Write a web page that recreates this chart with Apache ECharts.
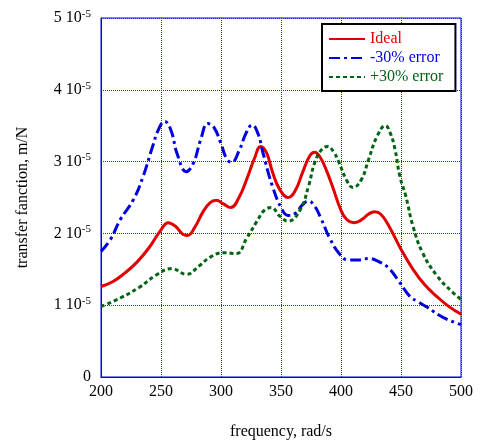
<!DOCTYPE html>
<html>
<head>
<meta charset="utf-8">
<script src="https://cdn.jsdelivr.net/npm/echarts@6/dist/echarts.min.js"></script>
<style>
  html, body { margin: 0; padding: 0; background: #fff; }
  #main { width: 480px; height: 445px; }
</style>
</head>
<body>
<div id="main"></div>
<script>
// values in units of 1e-5 m/N
var idealX = [200, 210, 220, 230, 240, 250, 256, 262, 268, 272, 278, 285, 291, 296, 302, 308, 315, 322, 328, 333, 338, 343, 349, 356, 362, 368, 374, 378, 383, 388, 393, 400, 405, 411, 418, 423, 428, 433, 440, 450, 460, 470, 480, 490, 500];
var idealY = [1.26, 1.33, 1.45, 1.60, 1.80, 2.05, 2.15, 2.10, 1.99, 1.97, 2.08, 2.30, 2.43, 2.46, 2.41, 2.36, 2.50, 2.78, 3.05, 3.21, 3.12, 2.85, 2.61, 2.50, 2.60, 2.85, 3.08, 3.13, 3.05, 2.87, 2.65, 2.32, 2.19, 2.15, 2.20, 2.27, 2.30, 2.27, 2.10, 1.78, 1.50, 1.28, 1.12, 0.98, 0.875];

var minusX = [200, 208, 216, 227, 235, 243, 248, 253, 258, 264, 271, 277, 283, 289, 294, 300, 305, 309, 315, 321, 326, 331, 335, 343, 351, 356, 362, 368, 373, 378, 383, 391, 399, 406, 414, 423, 431, 439, 448, 457, 465, 472, 485, 500];
var minusY = [1.75, 1.92, 2.19, 2.47, 2.79, 3.21, 3.45, 3.56, 3.45, 3.08, 2.86, 2.98, 3.30, 3.53, 3.48, 3.25, 3.03, 2.99, 3.15, 3.40, 3.51, 3.38, 3.12, 2.65, 2.33, 2.25, 2.28, 2.40, 2.45, 2.38, 2.22, 1.92, 1.71, 1.63, 1.63, 1.65, 1.61, 1.53, 1.34, 1.13, 1.04, 0.97, 0.83, 0.73];

var plusX = [200, 216, 232, 246, 259, 271, 282, 291, 302, 313, 321, 330, 336, 342, 349, 356, 366, 373, 378, 384, 389, 394, 398, 405, 410, 417, 423, 430, 437, 441, 445, 449, 454, 460, 468, 480, 493, 500];
var plusY = [0.98, 1.10, 1.25, 1.42, 1.51, 1.43, 1.55, 1.67, 1.73, 1.72, 1.92, 2.17, 2.32, 2.36, 2.24, 2.17, 2.33, 2.66, 2.98, 3.17, 3.21, 3.13, 3.00, 2.73, 2.64, 2.75, 3.03, 3.35, 3.50, 3.40, 3.17, 2.80, 2.52, 2.10, 1.73, 1.41, 1.18, 1.08];

var seriesNames = ['Ideal', '-30% error', '+30% error'];
var seriesColors = ['#e00000', '#0000e0', '#006414'];

function pairs(xs, ys) {
  return xs.map(function (x, i) { return [x, ys[i]]; });
}

var chart = echarts.init(document.getElementById('main'));
var font = '"Liberation Serif", "DejaVu Serif", serif';

var option = {
  animation: false,
  grid: {
    left: 101, right: 19, top: 18, bottom: 67,
    show: true, borderColor: '#0000e0', borderWidth: 1
  },
  legend: {
    left: 322, top: 24,
    orient: 'vertical',
    backgroundColor: '#fff',
    borderColor: '#000', borderWidth: 2, borderRadius: 0,
    padding: [7, 12, 6, 6],
    itemWidth: 36, itemHeight: 14, itemGap: 3,
    itemStyle: { opacity: 0 },
    textStyle: { fontFamily: font, fontSize: 16 },
    data: seriesNames.map(function (n, i) {
      return { name: n, textStyle: { color: seriesColors[i] } };
    })
  },
  xAxis: {
    type: 'value', min: 200, max: 500, interval: 50,
    name: 'frequency, rad/s', nameLocation: 'middle', nameGap: 47,
    nameTextStyle: { fontFamily: font, fontSize: 16, color: '#000' },
    axisLine: { lineStyle: { color: '#0000e0', width: 1 } },
    axisTick: { show: false },
    axisLabel: { fontFamily: font, fontSize: 16, color: '#000', margin: 7 },
    splitLine: { show: true, lineStyle: { color: '#2020ff', type: 'dotted', width: 1 } }
  },
  yAxis: {
    type: 'value', min: 0, max: 5, interval: 1,
    name: 'transfer fanction, m/N', nameLocation: 'middle', nameGap: 70,
    nameTextStyle: { fontFamily: font, fontSize: 16, color: '#000' },
    axisLine: { show: true, lineStyle: { color: '#0000e0', width: 1 } },
    axisTick: { show: false },
    axisLabel: {
      fontFamily: font, fontSize: 16, color: '#000', margin: 10,
      formatter: function (v) { return v === 0 ? '0' : v + ' 10{s|-5}'; },
      rich: {
        s: { fontFamily: font, fontSize: 11, color: '#000', verticalAlign: 'top', padding: [0, 0, 8, 0] }
      }
    },
    splitLine: { show: true, lineStyle: { color: '#2020ff', type: 'dotted', width: 1 } }
  },
  series: [
    {
      name: seriesNames[0], type: 'line', smooth: 0.45, symbol: 'none',
      data: pairs(idealX, idealY),
      itemStyle: { color: seriesColors[0] },
      lineStyle: { color: seriesColors[0], width: 3 }
    },
    {
      name: seriesNames[1], type: 'line', smooth: 0.45, symbol: 'none',
      data: pairs(minusX, minusY),
      itemStyle: { color: seriesColors[1] },
      lineStyle: { color: seriesColors[1], width: 3, type: [11, 4, 3, 4] }
    },
    {
      name: seriesNames[2], type: 'line', smooth: 0.45, symbol: 'none',
      data: pairs(plusX, plusY),
      itemStyle: { color: seriesColors[2] },
      lineStyle: { color: seriesColors[2], width: 3, type: [4, 3] }
    }
  ]
};

chart.setOption(option);
</script>
</body>
</html>
